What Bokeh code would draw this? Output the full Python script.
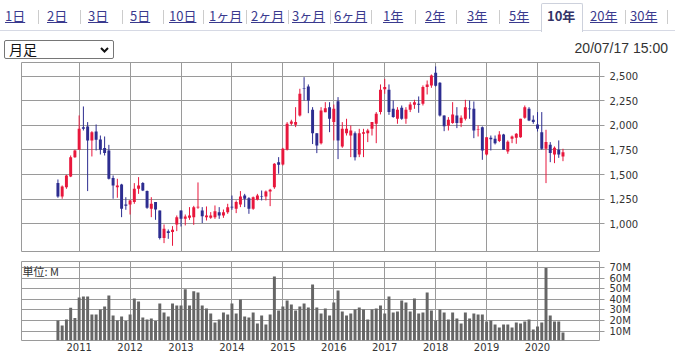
import pandas as pd
from bokeh.plotting import figure
from bokeh.models import (ColumnDataSource, Range1d, FixedTicker, Grid, Div,
                          Label, NumeralTickFormatter)
from bokeh.layouts import column
from bokeh.embed import file_html
from bokeh.resources import INLINE

# ---------------- data ----------------
months = pd.date_range("2010-08-01", periods=120, freq="MS")

opens = [1413, 1277, 1372, 1481, 1677, 1752, 1982, 1989, 1847, 1938,
         1857, 1769, 1745, 1464, 1372, 1399, 1196, 1196, 1220, 1355,
         1413, 1332, 1152, 1220, 1135, 854, 925, 915, 993, 1135,
         1050, 1060, 1067, 1165, 1135, 1067, 1060, 1067, 1118, 1084,
         1118, 1172, 1152, 1196, 1287, 1260, 1152, 1243, 1280, 1277,
         1328, 1372, 1626, 1603, 1752, 2016, 2006, 2101, 2378, 2395,
         2158, 1921, 1819, 2134, 2185, 2033, 2246, 1786, 1921, 1897,
         1921, 1704, 1914, 1921, 1965, 2016, 2135, 2368, 2362, 2168,
         2067, 2178, 2067, 2158, 2209, 2219, 2219, 2389, 2406, 2534,
         2433, 2101, 1999, 2023, 2101, 2023, 2067, 2171, 2168, 1952,
         1982, 1704, 1874, 1863, 1840, 1907, 1735, 1863, 1874, 1880,
         2077, 2168, 2057, 2009, 1931, 1762, 1802, 1704, 1752, 1684]
highs = [1450, 1389, 1498, 1694, 1752, 2101, 2192, 2033, 1941, 2009,
         1897, 1887, 1802, 1491, 1457, 1406, 1270, 1243, 1413, 1474,
         1423, 1338, 1270, 1220, 1135, 993, 942, 976, 1084, 1135,
         1094, 1169, 1182, 1420, 1169, 1176, 1118, 1186, 1169, 1145,
         1203, 1287, 1237, 1332, 1304, 1270, 1277, 1304, 1338, 1338,
         1355, 1616, 1677, 1772, 2033, 2057, 2185, 2372, 2490, 2416,
         2185, 1921, 2185, 2236, 2236, 2212, 2287, 2033, 2067, 1999,
         1938, 1965, 1965, 1965, 2033, 2135, 2416, 2473, 2416, 2253,
         2185, 2202, 2185, 2236, 2260, 2294, 2406, 2456, 2517, 2599,
         2439, 2101, 2084, 2236, 2185, 2101, 2260, 2253, 2243, 1999,
         1989, 1880, 1897, 1897, 1941, 1914, 1847, 1897, 1921, 2067,
         2202, 2185, 2101, 2135, 2135, 1955, 1830, 1786, 1847, 1762]
lows = [1264, 1254, 1355, 1474, 1670, 1752, 1948, 1332, 1684, 1745,
        1704, 1694, 1450, 1254, 1264, 1067, 1142, 1094, 1203, 1304,
        1332, 1152, 1067, 1040, 840, 803, 847, 776, 925, 972,
        983, 1040, 989, 1152, 1007, 1033, 1050, 1050, 1050, 1060,
        1101, 1142, 1108, 1169, 1169, 1101, 1142, 1237, 1237, 1237,
        1179, 1355, 1508, 1592, 1745, 1999, 1982, 2090, 2253, 2124,
        1810, 1718, 1806, 2134, 1931, 1847, 1657, 1772, 1897, 1677,
        1643, 1677, 1677, 1830, 1897, 1819, 2111, 2321, 2107, 2077,
        2016, 2057, 2016, 2135, 2168, 2128, 2202, 2314, 2382, 2395,
        2090, 1941, 1948, 2016, 1972, 1982, 2050, 2067, 1870, 1887,
        1650, 1694, 1745, 1806, 1830, 1752, 1711, 1819, 1813, 1874,
        2067, 2043, 2016, 1938, 1752, 1413, 1626, 1616, 1670, 1636]
closes = [1277, 1379, 1491, 1677, 1745, 1965, 1965, 1847, 1931, 1853,
          1752, 1718, 1457, 1389, 1389, 1152, 1182, 1237, 1355, 1389,
          1338, 1162, 1203, 1145, 854, 949, 905, 939, 1067, 1050,
          1074, 1084, 1169, 1172, 1077, 1084, 1084, 1128, 1084, 1118,
          1169, 1166, 1220, 1277, 1254, 1152, 1270, 1287, 1274, 1328,
          1345, 1609, 1599, 1762, 2016, 2040, 2033, 2321, 2372, 2253,
          1921, 1796, 2151, 2175, 2067, 2168, 1847, 1965, 1965, 1948,
          1677, 1921, 1931, 1948, 2033, 2118, 2362, 2389, 2135, 2084,
          2158, 2067, 2158, 2212, 2236, 2209, 2389, 2416, 2507, 2402,
          2101, 1992, 2057, 2111, 2023, 2077, 2185, 2165, 1948, 1958,
          1745, 1880, 1860, 1819, 1907, 1752, 1833, 1887, 1914, 2067,
          2185, 2050, 2033, 1965, 1762, 1830, 1718, 1772, 1704, 1728]
volumes_m = [20.0, 15.3, 21.0, 32.0, 22.3, 41.8, 42.8, 42.8, 25.7, 25.7,
             30.5, 33.3, 43.7, 24.8, 20.0, 23.8, 19.4, 25.7, 40.9, 38.0,
             22.9, 21.0, 22.0, 19.4, 36.2, 27.6, 23.8, 36.2, 34.2, 34.2,
             49.7, 34.2, 47.8, 46.6, 34.2, 31.4, 26.7, 18.2, 21.0, 27.6,
             25.7, 36.2, 26.7, 39.9, 23.8, 22.9, 27.6, 17.2, 24.8, 16.3,
             25.7, 61.7, 29.5, 33.3, 39.0, 35.2, 29.5, 33.3, 36.2, 32.3,
             54.1, 32.3, 26.7, 31.4, 24.8, 37.1, 48.4, 28.6, 24.8, 26.7,
             30.5, 32.3, 30.5, 21.0, 30.5, 31.4, 34.2, 26.7, 42.8, 27.6,
             28.6, 39.0, 37.1, 28.6, 40.9, 26.7, 27.6, 46.6, 29.5, 20.0,
             30.5, 27.6, 21.0, 27.6, 22.0, 17.2, 27.6, 22.0, 26.7, 25.7,
             25.7, 19.1, 20.0, 16.3, 13.4, 16.3, 16.3, 13.4, 18.2, 17.2,
             19.1, 21.0, 11.5, 14.4, 18.2, 69.9, 24.8, 19.1, 19.1, 8.7]

price_ticks = [1000, 1250, 1500, 1750, 2000, 2250, 2500]
year_ticks = [2011, 2012, 2013, 2014, 2015, 2016, 2017, 2018, 2019, 2020]
volume_ticks = [10, 20, 30, 40, 50, 60, 70]
tab_labels = ["1日", "2日", "3日", "5日", "10日", "1ヶ月", "2ヶ月", "3ヶ月",
              "6ヶ月", "1年", "2年", "3年", "5年", "10年", "20年", "30年"]
selected_tab = "10年"
period_label = "月足"
timestamp = "20/07/17 15:00"
unit_label = "単位: M"

# ---------------- styles / layout ----------------
W = 675
UP = "#e8173c"
DOWN = "#2d2d90"
GRID = "#9a9a9a"
TXT = "#333333"
LINK = "#3a3a8e"
tab_left = [5, 47, 88, 130, 169, 209, 251, 292, 334, 383, 425, 467, 509, 547, 590, 630]
sep_left = [38, 80, 122, 163, 203, 246, 288, 330, 371, 415, 456, 499, 625, 667]

xs = [d.year + (d.month - 1) / 12 for d in months]
colors = [UP if c >= o else DOWN for o, c in zip(opens, closes)]
src = ColumnDataSource(dict(
    x=xs, open=opens, high=highs, low=lows, close=closes,
    top=[max(o, c) for o, c in zip(opens, closes)],
    bottom=[min(o, c) for o, c in zip(opens, closes)],
    color=colors, vol=volumes_m))

x_range = Range1d(2009.868, 2021.217)

# ---------------- header ----------------
parts = ['<div style="position:relative;width:%dpx;height:60px;background:#fff;'
         'font-family:\'Noto Sans CJK JP\',sans-serif;">' % W]
parts.append('<div style="position:absolute;left:0;top:30px;width:%dpx;height:0;'
             'border-top:1px solid #d6d9e4;"></div>' % W)
parts.append('<div style="position:absolute;left:541px;top:3px;width:42px;height:29px;'
             'box-sizing:border-box;border:1px solid #cdd1dc;border-bottom:none;'
             'border-radius:2px 2px 0 0;background:#fff;"></div>')
for s in sep_left:
    parts.append('<div style="position:absolute;left:%dpx;top:10px;width:0;height:14px;'
                 'border-left:1px solid #cccccc;"></div>' % s)
for lab, lx in zip(tab_labels, tab_left):
    if lab == selected_tab:
        st = 'color:#333366;font-weight:bold;text-decoration:none;'
    else:
        st = 'color:%s;text-decoration:underline;' % LINK
    parts.append('<span style="position:absolute;left:%dpx;top:6px;font-size:13px;'
                 'line-height:19px;white-space:nowrap;%s">%s</span>' % (lx, st, lab))
parts.append('<div style="position:absolute;left:4px;top:40px;width:110px;height:19px;'
             'box-sizing:border-box;border:1px solid #767676;border-radius:2px;background:#fff;">'
             '<span style="position:absolute;left:4px;top:0px;font-size:14px;line-height:17px;'
             'color:#111;white-space:nowrap;">%s</span>'
             '<svg style="position:absolute;right:4px;top:6px;" width="9" height="6">'
             '<polyline points="1,1 4.5,4.5 8,1" fill="none" stroke="#111" stroke-width="2"/>'
             '</svg></div>' % period_label)
parts.append('<span style="position:absolute;right:7px;top:41px;font-family:\'Liberation Sans\';'
             'font-size:14px;line-height:15px;color:%s;white-space:nowrap;">%s</span>'
             % (TXT, timestamp))
parts.append('</div>')
header = Div(text="".join(parts), width=W, height=60, margin=0)

# ---------------- price chart ----------------
p = figure(width=W, height=195, x_range=x_range, y_range=Range1d(718, 2639),
           output_backend="svg", toolbar_location=None, x_axis_location=None,
           y_axis_location="right", min_border_left=21, min_border_right=76,
           min_border_top=2, min_border_bottom=4)
p.outline_line_color = GRID
p.background_fill_color = "white"
p.border_fill_color = "white"
pt = FixedTicker(ticks=price_ticks)
p.yaxis.ticker = pt
p.ygrid.ticker = pt
p.ygrid.grid_line_color = GRID
p.xgrid.visible = False
p.add_layout(Grid(dimension=0, ticker=FixedTicker(ticks=year_ticks), grid_line_color=GRID))
p.yaxis.formatter = NumeralTickFormatter(format="0,0")
p.yaxis.axis_line_color = None
p.yaxis.major_tick_line_color = GRID
p.yaxis.major_tick_out = 5
p.yaxis.major_tick_in = 0
p.yaxis.minor_tick_out = 0
p.yaxis.minor_tick_in = 0
p.yaxis.major_label_standoff = 5
p.yaxis.major_label_text_font = "DejaVu Sans"
p.yaxis.major_label_text_font_size = "10px"
p.yaxis.major_label_text_color = TXT

p.segment(x0="x", y0="high", x1="x", y1="low", line_color="color", line_width=1, source=src)
p.vbar(x="x", width=0.058, top="top", bottom="bottom", fill_color="color",
       line_color=None, source=src)

# ---------------- volume chart ----------------
v = figure(width=W, height=100, x_range=x_range, y_range=Range1d(1.0, 76.0),
           output_backend="svg", toolbar_location=None, y_axis_location="right",
           min_border_left=21, min_border_right=76, min_border_top=6, min_border_bottom=15)
v.outline_line_color = GRID
v.background_fill_color = "white"
v.border_fill_color = "white"
vt = FixedTicker(ticks=volume_ticks)
v.yaxis.ticker = vt
v.ygrid.ticker = vt
v.ygrid.grid_line_color = GRID
xt = FixedTicker(ticks=year_ticks)
v.xaxis.ticker = xt
v.xgrid.ticker = xt
v.xgrid.grid_line_color = GRID
v.xaxis.major_label_overrides = {y: str(y) for y in year_ticks}
v.yaxis.major_label_overrides = {t: "%dM" % t for t in volume_ticks}
for ax in (v.xaxis, v.yaxis):
    ax.axis_line_color = None
    ax.major_tick_line_color = GRID
    ax.minor_tick_out = 0
    ax.minor_tick_in = 0
    ax.major_tick_in = 0
    ax.major_label_text_font = "DejaVu Sans"
    ax.major_label_text_font_size = "10px"
    ax.major_label_text_color = TXT
v.xaxis.major_tick_out = 0
v.xaxis.major_label_standoff = 2
v.yaxis.major_tick_out = 5
v.yaxis.major_label_standoff = 5

v.vbar(x="x", width=0.058, top="vol", bottom=0, fill_color="#666666",
       line_color=None, source=src)
v.add_layout(Label(x=2009.888, y=74.8, text=unit_label, text_baseline="top",
                   text_font="Noto Sans CJK JP", text_font_size="11px", text_color=TXT))

layout = column(header, p, v, spacing=0)
open("out.html", "w").write(file_html(layout, INLINE))
